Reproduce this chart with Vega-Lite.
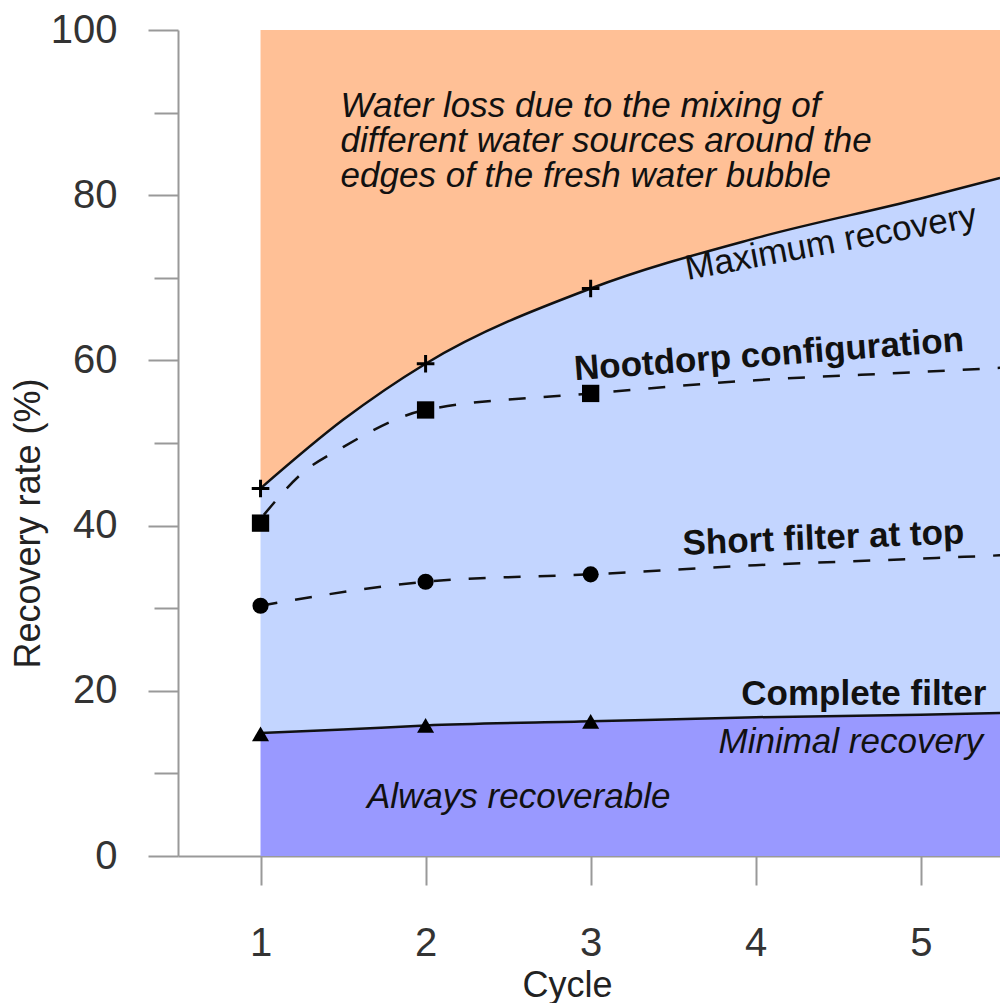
{
  "$schema": "https://vega.github.io/schema/vega-lite/v6.json",
  "width": 822,
  "height": 826,
  "autosize": {"type": "none"},
  "padding": {"left": 178, "top": 30, "right": 0, "bottom": 147},
  "background": "white",
  "config": {"view": {"stroke": null}, "font": "Liberation Sans"},
  "datasets": {
    "bands": [
      {"cycle": 1, "minimal": 14.9, "maximum": 44.5},
      {"cycle": 1.5, "minimal": 15.3, "maximum": 52.8},
      {"cycle": 2, "minimal": 15.8, "maximum": 59.6},
      {"cycle": 3, "minimal": 16.3, "maximum": 68.7},
      {"cycle": 4, "minimal": 16.8, "maximum": 74.8},
      {"cycle": 5, "minimal": 17.1, "maximum": 79.6},
      {"cycle": 5.48, "minimal": 17.3, "maximum": 82.1}
    ],
    "nootdorp": [
      {"cycle": 1.02, "rate": 41.3},
      {"cycle": 1.25, "rate": 46.3},
      {"cycle": 1.5, "rate": 49.5},
      {"cycle": 2, "rate": 54.0},
      {"cycle": 3, "rate": 56.0},
      {"cycle": 4, "rate": 57.6},
      {"cycle": 5, "rate": 58.6},
      {"cycle": 5.48, "rate": 59.1}
    ],
    "short": [
      {"cycle": 1, "rate": 30.3},
      {"cycle": 2, "rate": 33.2},
      {"cycle": 3, "rate": 34.1},
      {"cycle": 4, "rate": 35.2},
      {"cycle": 5, "rate": 36.0},
      {"cycle": 5.48, "rate": 36.4}
    ],
    "markers": [
      {"series": "Maximum recovery", "cycle": 1, "rate": 44.5},
      {"series": "Maximum recovery", "cycle": 2, "rate": 59.6},
      {"series": "Maximum recovery", "cycle": 3, "rate": 68.7},
      {"series": "Nootdorp configuration", "cycle": 1, "rate": 40.3},
      {"series": "Nootdorp configuration", "cycle": 2, "rate": 54.0},
      {"series": "Nootdorp configuration", "cycle": 3, "rate": 56.0},
      {"series": "Short filter at top", "cycle": 1, "rate": 30.3},
      {"series": "Short filter at top", "cycle": 2, "rate": 33.2},
      {"series": "Short filter at top", "cycle": 3, "rate": 34.1},
      {"series": "Complete filter", "cycle": 1, "rate": 14.8},
      {"series": "Complete filter", "cycle": 2, "rate": 15.8},
      {"series": "Complete filter", "cycle": 3, "rate": 16.3}
    ]
  },
  "layer": [
    {
      "data": {"name": "bands"},
      "mark": {"type": "area", "interpolate": "monotone", "color": "#FFC096"},
      "encoding": {
        "x": {
          "field": "cycle", "type": "quantitative",
          "scale": {"domain": [0.5, 5.48], "nice": false, "zero": false},
          "axis": {
            "title": "Cycle", "values": [1, 2, 3, 4, 5], "format": "d", "grid": false,
            "domainColor": "#999999", "domainWidth": 2,
            "tickColor": "#999999", "tickWidth": 2, "tickSize": 29,
            "labelFontSize": 40, "labelColor": "#333333", "labelPadding": 38,
            "titleFontSize": 36, "titleFontWeight": "normal", "titleColor": "#222222",
            "titleX": 389, "titleY": 140, "titleBaseline": "alphabetic", "titleAlign": "center"
          }
        },
        "y": {
          "field": "maximum", "type": "quantitative",
          "scale": {"domain": [0, 100], "nice": false},
          "axis": {
            "title": "Recovery rate (%)", "values": [0, 10, 20, 30, 40, 50, 60, 70, 80, 90, 100], "grid": false,
            "labelExpr": "datum.value % 20 === 0 ? datum.label : ''",
            "domainColor": "#999999", "domainWidth": 2,
            "tickColor": "#999999", "tickWidth": 2,
            "tickSize": {"condition": {"test": "datum.value % 20 !== 0", "value": 24}, "value": 30},
            "labelFontSize": 40, "labelColor": "#333333", "labelPadding": 31,
            "titleFontSize": 36, "titleFontWeight": "normal", "titleColor": "#222222",
            "titleAngle": -90, "titleX": -150, "titleY": 493, "titleBaseline": "middle", "titleAlign": "center"
          }
        },
        "y2": {"datum": 100}
      }
    },
    {
      "data": {"name": "bands"},
      "mark": {"type": "area", "interpolate": "monotone", "color": "#C3D5FF"},
      "encoding": {
        "x": {"field": "cycle", "type": "quantitative"},
        "y": {"field": "minimal", "type": "quantitative"},
        "y2": {"field": "maximum"}
      }
    },
    {
      "data": {"name": "bands"},
      "mark": {"type": "area", "interpolate": "monotone", "color": "#9999FF"},
      "encoding": {
        "x": {"field": "cycle", "type": "quantitative"},
        "y": {"field": "minimal", "type": "quantitative"},
        "y2": {"datum": 0}
      }
    },
    {
      "data": {"name": "bands"},
      "mark": {"type": "line", "interpolate": "monotone", "color": "#111111", "strokeWidth": 2.5},
      "encoding": {
        "x": {"field": "cycle", "type": "quantitative"},
        "y": {"field": "maximum", "type": "quantitative"}
      }
    },
    {
      "data": {"name": "bands"},
      "mark": {"type": "line", "interpolate": "monotone", "color": "#111111", "strokeWidth": 2.5},
      "encoding": {
        "x": {"field": "cycle", "type": "quantitative"},
        "y": {"field": "minimal", "type": "quantitative"}
      }
    },
    {
      "data": {"name": "nootdorp"},
      "mark": {"type": "line", "interpolate": "monotone", "color": "#111111", "strokeWidth": 2.5, "strokeDash": [17, 18]},
      "encoding": {
        "x": {"field": "cycle", "type": "quantitative"},
        "y": {"field": "rate", "type": "quantitative"}
      }
    },
    {
      "data": {"name": "short"},
      "mark": {"type": "line", "interpolate": "monotone", "color": "#111111", "strokeWidth": 2.5, "strokeDash": [17, 18]},
      "encoding": {
        "x": {"field": "cycle", "type": "quantitative"},
        "y": {"field": "rate", "type": "quantitative"}
      }
    },
    {
      "data": {"name": "markers"},
      "transform": [{"filter": "datum.series === 'Maximum recovery'"}],
      "mark": {"type": "point", "shape": "M-1,0H1M0,-1V1", "filled": false, "stroke": "#000000", "strokeWidth": 3, "size": 310, "opacity": 1},
      "encoding": {
        "x": {"field": "cycle", "type": "quantitative"},
        "y": {"field": "rate", "type": "quantitative"}
      }
    },
    {
      "data": {"name": "markers"},
      "transform": [{"filter": "datum.series === 'Nootdorp configuration'"}],
      "mark": {"type": "point", "shape": "square", "filled": true, "color": "#000000", "size": 300, "opacity": 1},
      "encoding": {
        "x": {"field": "cycle", "type": "quantitative"},
        "y": {"field": "rate", "type": "quantitative"}
      }
    },
    {
      "data": {"name": "markers"},
      "transform": [{"filter": "datum.series === 'Short filter at top'"}],
      "mark": {"type": "point", "shape": "circle", "filled": true, "color": "#000000", "size": 260, "opacity": 1},
      "encoding": {
        "x": {"field": "cycle", "type": "quantitative"},
        "y": {"field": "rate", "type": "quantitative"}
      }
    },
    {
      "data": {"name": "markers"},
      "transform": [{"filter": "datum.series === 'Complete filter'"}],
      "mark": {"type": "point", "shape": "triangle-up", "filled": true, "color": "#000000", "size": 290, "opacity": 1},
      "encoding": {
        "x": {"field": "cycle", "type": "quantitative"},
        "y": {"field": "rate", "type": "quantitative"}
      }
    },
    {
      "data": {"values": [{"label": ["Water loss due to the mixing of", "different water sources around the", "edges of the fresh water bubble"], "cycle": 1.485, "rate": 89.5}]},
      "mark": {"type": "text", "align": "left", "baseline": "alphabetic", "fontSize": 35, "fontStyle": "italic", "lineHeight": 35, "color": "#111111"},
      "encoding": {
        "x": {"field": "cycle", "type": "quantitative"},
        "y": {"field": "rate", "type": "quantitative"},
        "text": {"field": "label"}
      }
    },
    {
      "data": {"values": [{"label": "Maximum recovery", "cycle": 4.455, "rate": 74.3}]},
      "mark": {"type": "text", "align": "center", "baseline": "middle", "fontSize": 35, "angle": -10.5, "color": "#111111"},
      "encoding": {
        "x": {"field": "cycle", "type": "quantitative"},
        "y": {"field": "rate", "type": "quantitative"},
        "text": {"field": "label"}
      }
    },
    {
      "data": {"values": [{"label": "Nootdorp configuration", "cycle": 4.08, "rate": 60.7}]},
      "mark": {"type": "text", "align": "center", "baseline": "middle", "fontSize": 35, "fontWeight": "bold", "angle": -4.3, "color": "#111111"},
      "encoding": {
        "x": {"field": "cycle", "type": "quantitative"},
        "y": {"field": "rate", "type": "quantitative"},
        "text": {"field": "label"}
      }
    },
    {
      "data": {"values": [{"label": "Short filter at top", "cycle": 4.41, "rate": 38.5}]},
      "mark": {"type": "text", "align": "center", "baseline": "middle", "fontSize": 35, "fontWeight": "bold", "angle": -2.3, "color": "#111111"},
      "encoding": {
        "x": {"field": "cycle", "type": "quantitative"},
        "y": {"field": "rate", "type": "quantitative"},
        "text": {"field": "label"}
      }
    },
    {
      "data": {"values": [{"label": "Complete filter", "cycle": 4.655, "rate": 19.6}]},
      "mark": {"type": "text", "align": "center", "baseline": "middle", "fontSize": 35, "fontWeight": "bold", "color": "#111111"},
      "encoding": {
        "x": {"field": "cycle", "type": "quantitative"},
        "y": {"field": "rate", "type": "quantitative"},
        "text": {"field": "label"}
      }
    },
    {
      "data": {"values": [{"label": "Minimal recovery", "cycle": 4.576, "rate": 13.8}]},
      "mark": {"type": "text", "align": "center", "baseline": "middle", "fontSize": 35, "fontStyle": "italic", "color": "#111111"},
      "encoding": {
        "x": {"field": "cycle", "type": "quantitative"},
        "y": {"field": "rate", "type": "quantitative"},
        "text": {"field": "label"}
      }
    },
    {
      "data": {"values": [{"label": "Always recoverable", "cycle": 2.564, "rate": 7.1}]},
      "mark": {"type": "text", "align": "center", "baseline": "middle", "fontSize": 35, "fontStyle": "italic", "color": "#111111"},
      "encoding": {
        "x": {"field": "cycle", "type": "quantitative"},
        "y": {"field": "rate", "type": "quantitative"},
        "text": {"field": "label"}
      }
    }
  ]
}
